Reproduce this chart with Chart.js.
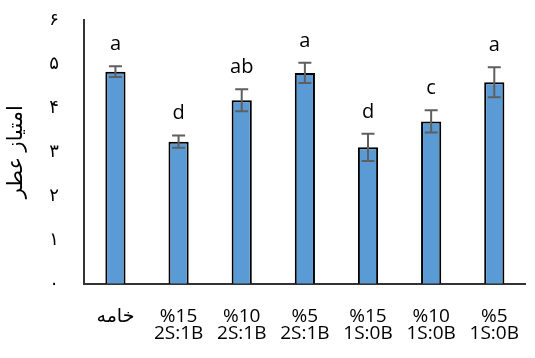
<!DOCTYPE html>
<html>
<head>
<meta charset="utf-8">
<script src="https://cdn.jsdelivr.net/npm/chart.js@4.4.1/dist/chart.umd.min.js"></script>
<style>
  html, body { margin: 0; padding: 0; background: #fff; }
  #wrap { width: 535px; height: 358px; }
</style>
</head>
<body>
<div id="wrap"><canvas id="c" width="535" height="358"></canvas></div>
<script>
// Aroma score per treatment
const categories = [
  ["خامه"],
  ["%15", "2S:1B"],
  ["%10", "2S:1B"],
  ["%5", "2S:1B"],
  ["%15", "1S:0B"],
  ["%10", "1S:0B"],
  ["%5", "1S:0B"]
];
const scores = [4.82, 3.23, 4.17, 4.79, 3.10, 3.69, 4.58];
const errors = [0.12, 0.14, 0.25, 0.23, 0.31, 0.25, 0.34];
const groups = ["a", "d", "ab", "a", "d", "c", "a"];
const yTickLabels = ["۰", "۱", "۲", "۳", "۴", "۵", "۶"];
const yTitle = "امتیاز عطر";

const FONT = '"Open Sans", "DejaVu Sans", sans-serif';

// Draws the ± error whiskers and the significance letters above each bar
const errorBarPlugin = {
  id: 'errorBars',
  afterDatasetsDraw(chart) {
    const ctx = chart.ctx;
    const meta = chart.getDatasetMeta(0);
    const y = chart.scales.y;
    ctx.save();
    meta.data.forEach((bar, i) => {
      const x = bar.x;
      const top = y.getPixelForValue(scores[i] + errors[i]);
      const bot = y.getPixelForValue(scores[i] - errors[i]);
      ctx.strokeStyle = '#5f5f5f';
      ctx.lineWidth = 2;
      ctx.beginPath();
      ctx.moveTo(x, top); ctx.lineTo(x, bot);
      ctx.moveTo(x - 6.5, top); ctx.lineTo(x + 6.5, top);
      ctx.moveTo(x - 6.5, bot); ctx.lineTo(x + 6.5, bot);
      ctx.stroke();
      ctx.fillStyle = '#000';
      ctx.font = '20px ' + FONT;
      ctx.textAlign = 'center';
      ctx.textBaseline = 'alphabetic';
      ctx.fillText(groups[i], x, top - 16);
    });
    ctx.restore();
  }
};

new Chart(document.getElementById('c'), {
  type: 'bar',
  data: {
    labels: categories,
    datasets: [{
      data: scores,
      backgroundColor: '#5b9bd5',
      borderColor: '#000000',
      borderWidth: 2,
      borderSkipped: 'bottom',
      barPercentage: 0.32,
      categoryPercentage: 1.0
    }]
  },
  options: {
    responsive: false,
    animation: false,
    layout: { padding: { top: 18, right: 0, left: 3, bottom: 0 } },
    plugins: {
      legend: { display: false },
      tooltip: { enabled: false }
    },
    scales: {
      y: {
        min: 0, max: 6,
        ticks: {
          stepSize: 1,
          padding: 17,
          color: '#000',
          font: { family: FONT, size: 18, lineHeight: 0.3 },
          callback: (v) => yTickLabels[v]
        },
        grid: { display: false },
        border: { display: true, color: '#333333', width: 2 },
        title: {
          display: true,
          text: yTitle,
          color: '#000',
          font: { family: FONT, size: 21 },
          padding: { top: 0, bottom: 4 }
        }
      },
      x: {
        ticks: {
          color: '#000',
          font: { family: FONT, size: 19, lineHeight: 0.9 },
          padding: 16,
          maxRotation: 0,
          autoSkip: false
        },
        grid: { display: false },
        border: { display: true, color: '#333333', width: 2 }
      }
    }
  },
  plugins: [errorBarPlugin]
});
</script>
</body>
</html>
